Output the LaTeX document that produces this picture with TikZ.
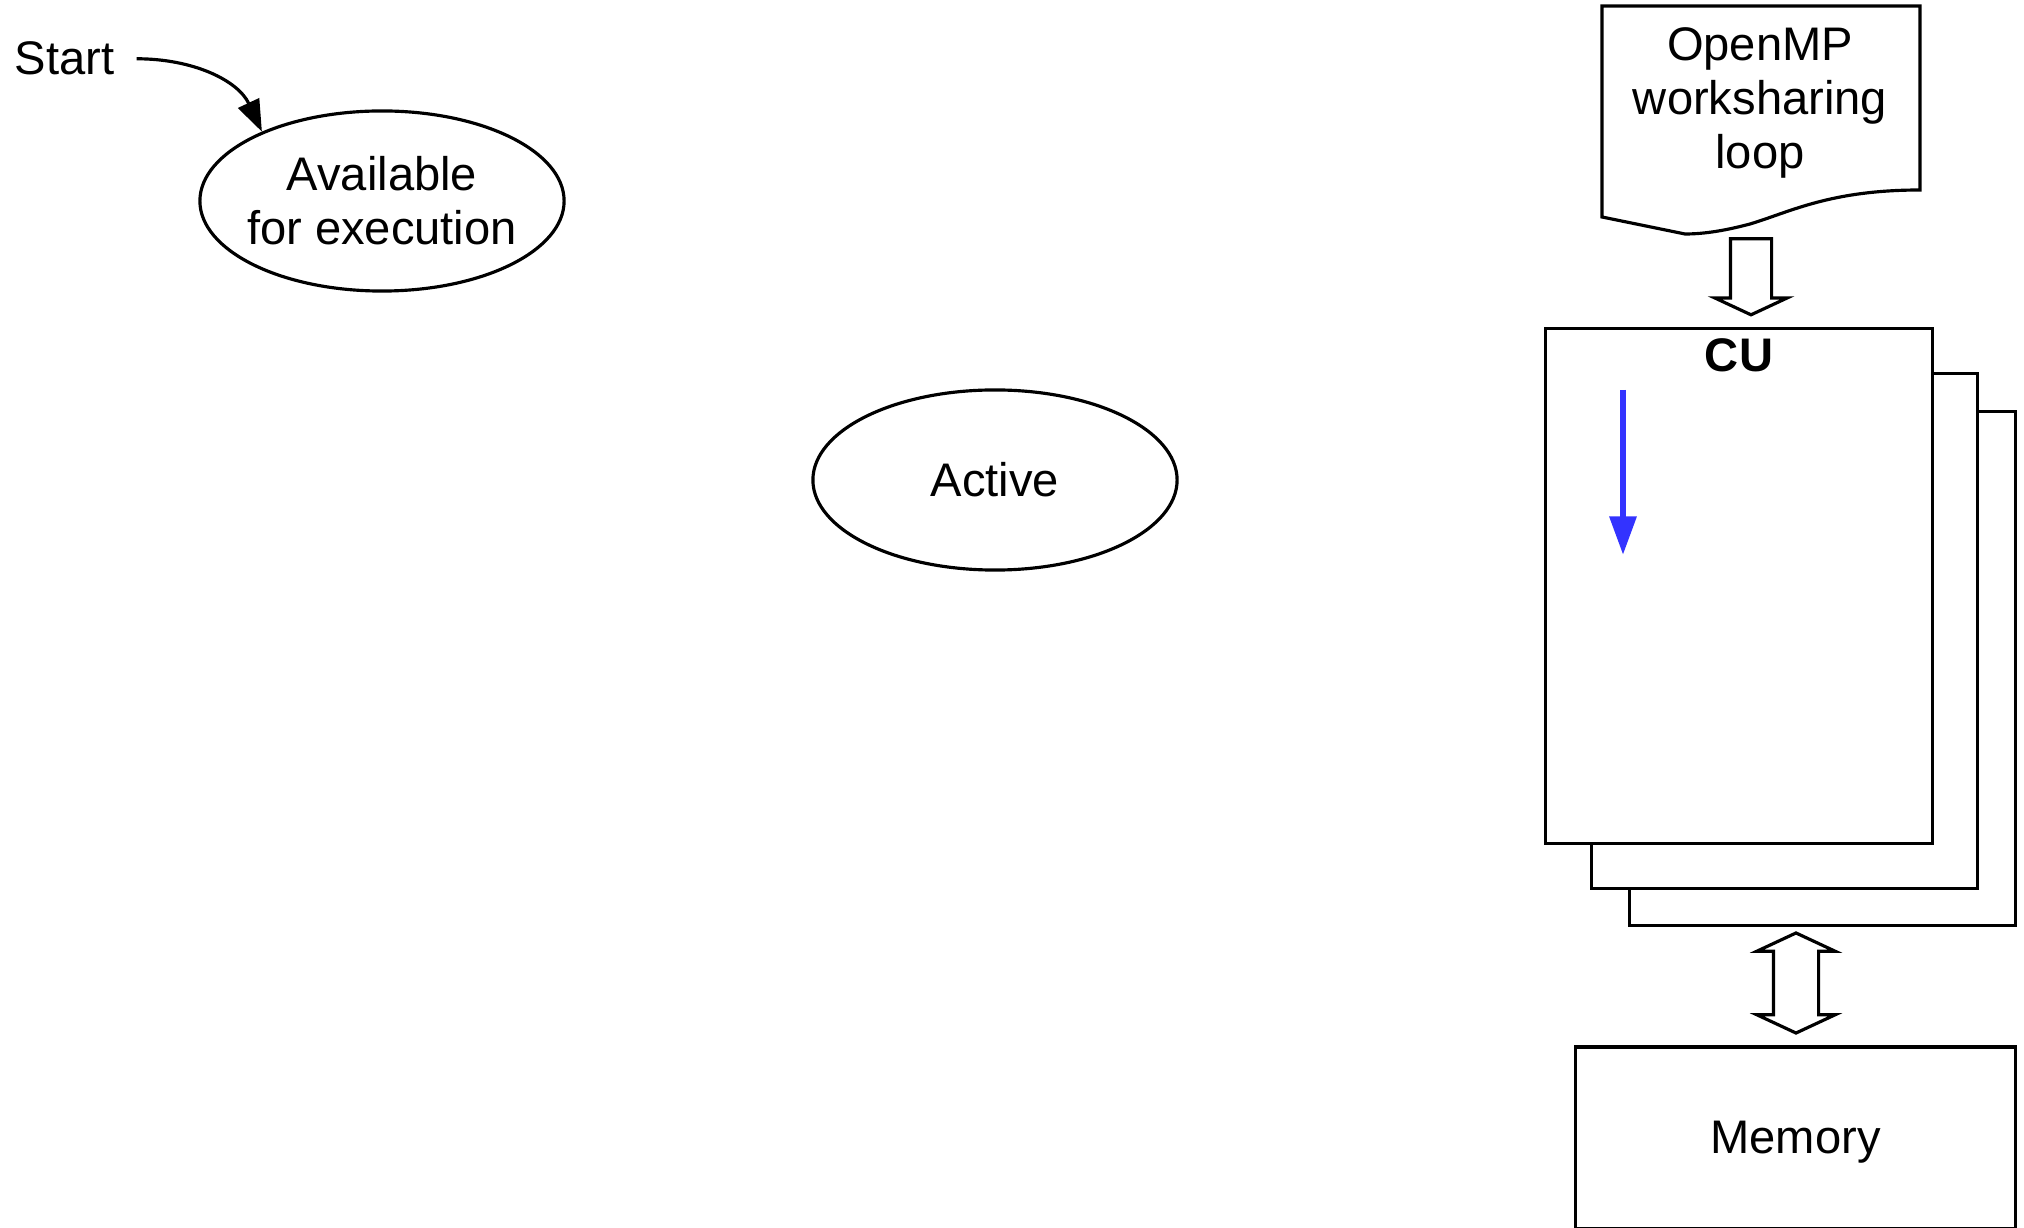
\documentclass[tikz,border=0pt]{standalone}
\usepackage{fontspec}
\setmainfont{Liberation Sans}
\usetikzlibrary{positioning}
\usetikzlibrary{shapes.geometric,shapes.arrows}
\usetikzlibrary{arrows.meta}
\definecolor{blu}{RGB}{51,51,255}
\newcommand\carattere{\fontsize{13.4}{15.4}\selectfont}

\begin{document}
\begin{tikzpicture}[x=0.01cm,y=-0.01cm,line width=0.9pt,font=\carattere,
stato/.style={draw,ellipse,minimum width=3.64cm,minimum height=1.8cm,inner sep=0},
statoT/.style={align=center,anchor=center},
scheda/.style={draw,fill=white,minimum width=3.86cm,minimum height=5.14cm,inner sep=0},
freccia/.style={draw,fill=white,single arrow,rotate=-90,inner xsep=0,inner ysep=0.19cm,minimum height=0.76cm,single arrow head extend=0.155cm,single arrow tip angle=130},
doppia/.style={draw,fill=white,double arrow,rotate=-90,inner xsep=0,inner ysep=0.21cm,minimum height=1cm,double arrow head extend=0.165cm,double arrow tip angle=130}
]
\useasboundingbox (0,0) rectangle (2024,1228);
%--
\node[anchor=base west,inner sep=0](start) at (13,75){Start};
\node[stato](disp) at (382,201){}; \node[statoT] at (disp.center){Available\\for execution};
\draw [-{Triangle[length=9pt,width=6.5pt]}] ([xshift=0.21cm]start.east) to[out=0,in=115] (disp.150);
%--
\node[stato](attivo) at (995,480){}; \node[statoT] at (attivo.center){Active};
%----
\draw[fill=white] (1602,6) -- (1920,6) -- (1920,190) .. controls (1830,190) and (1790,212) .. (1750,224) .. controls (1720,232) and (1700,234) .. (1685,234) -- (1602,217) -- cycle;
\node[statoT](omp) at (1760,103){OpenMP\\worksharing\\loop};
\node[freccia](carica) at (1751,272){};
%--
\node[scheda](cu3) at (1822.5,668.5){};
\node[scheda](cu2) at (1784.5,631){};
\node[scheda](cu1) at (1739,586){};
\node[anchor=north,font=\carattere\bfseries,inner sep=0.1cm](cu) at (cu1.north){CU};
\coordinate (flussoA) at (1623,390);
\coordinate (flussoB) at (1623,555);
\draw [blu,line width=1.8pt,-{Triangle[length=11pt,width=7.4pt]}] (flussoA) -- (flussoB);
%--
\node[doppia](scambio) at (1796,983){};
\node[draw,minimum width=4.39cm,minimum height=1.82cm,inner sep=0](mem) at (1795.5,1138){};
\node[statoT] at ([yshift=-0.04cm]mem.center){Memory};
\end{tikzpicture}
\end{document}
